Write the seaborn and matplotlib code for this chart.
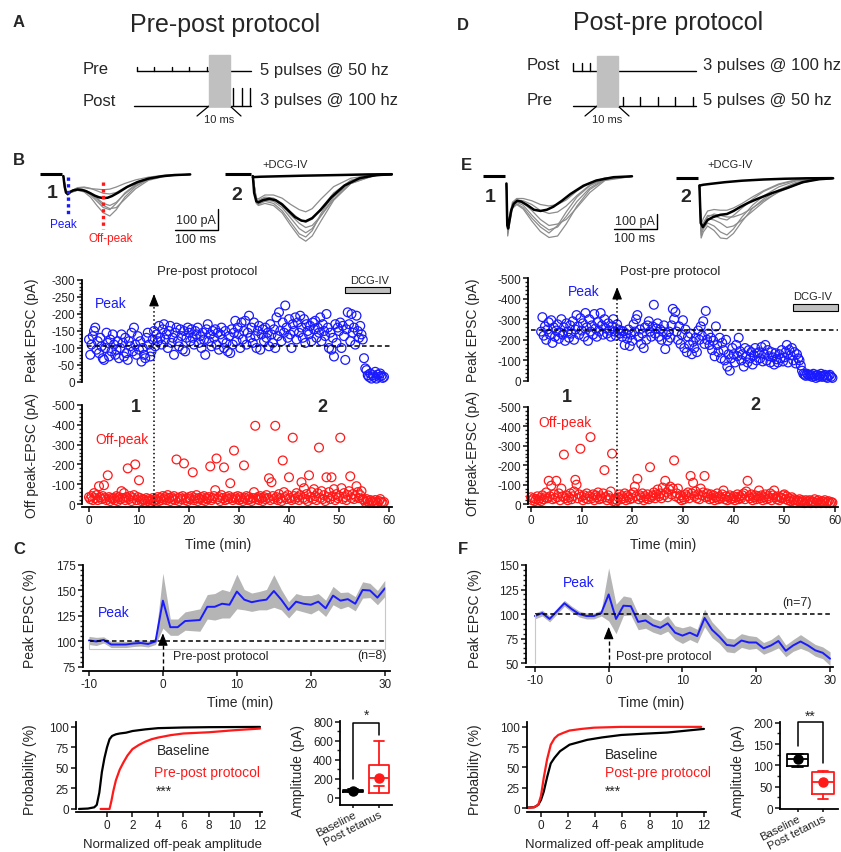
import numpy as np
import matplotlib
matplotlib.use("Agg")
import matplotlib.pyplot as plt
import seaborn as sns
from matplotlib.patches import Rectangle
from matplotlib.ticker import MultipleLocator

W, H = 841, 853
BLUE = "#1a1aff"
RED = "#ff1a1a"
GREY = "#8c8c8c"
BAND = "#b5b5b5"

# ========================= Protocol pulses (ms) =========================
PRE_PULSES_MS = [0, 20, 40, 60, 80]      # 5 pulses @ 50 Hz
POST_PULSES_MS = [0, 10, 20]             # 3 pulses @ 100 Hz

# ========================= Example traces (ms, pA) =========================
# Pre-post, before (1)
B1_MEAN_T = [2, 5, 8, 12, 18, 25, 35, 45, 55, 65, 75, 85, 95, 105, 115, 130, 150, 175, 200, 230, 260, 297]
B1_MEAN_I = [-10, -60, -88, -95, -85, -78, -74, -76, -82, -92, -103, -111, -115, -113, -105, -88, -62, -38, -22, -11, -5, -2]
B1_GREY_T = [2, 8, 12, 20, 35, 50, 65, 80, 95, 110, 125, 145, 170, 200, 240, 297]
B1_GREY = [
    [-10, -85, -98, -85, -72, -75, -90, -115, -140, -150, -135, -95, -55, -25, -8, -2],
    [-10, -90, -100, -88, -78, -85, -110, -150, -185, -200, -170, -110, -60, -25, -8, -2],
    [-10, -80, -92, -80, -65, -62, -68, -80, -92, -95, -88, -65, -40, -20, -6, -2],
    [-10, -88, -96, -83, -75, -80, -100, -130, -160, -170, -140, -90, -50, -22, -7, -2],
    [-10, -82, -95, -80, -68, -65, -70, -72, -75, -72, -62, -45, -28, -15, -5, -2],
    [-10, -86, -100, -86, -76, -82, -95, -120, -150, -165, -160, -120, -70, -30, -10, -3],
]
# Pre-post, after (2)
B2_MEAN_T = [2, 5, 10, 15, 25, 40, 55, 70, 85, 100, 115, 125, 140, 160, 185, 215, 250, 290, 325]
B2_MEAN_I = [-10, -90, -130, -135, -125, -118, -125, -145, -175, -205, -222, -225, -210, -170, -110, -55, -20, -5, -2]
B2_GREY_T = [2, 10, 15, 30, 50, 70, 90, 110, 125, 140, 160, 190, 230, 280, 325]
B2_GREY = [
    [-10, -130, -140, -125, -130, -160, -210, -260, -280, -260, -200, -110, -40, -8, -2],
    [-10, -120, -125, -110, -115, -140, -180, -215, -230, -215, -165, -90, -30, -6, -2],
    [-10, -140, -150, -140, -150, -185, -245, -300, -320, -295, -225, -125, -45, -10, -2],
    [-10, -115, -118, -100, -100, -115, -145, -170, -180, -165, -120, -60, -20, -5, -2],
    [-10, -135, -145, -130, -140, -175, -230, -285, -300, -270, -190, -95, -30, -6, -2],
    [-10, -125, -130, -115, -120, -150, -195, -235, -255, -245, -200, -120, -45, -10, -2],
]
B2_DCG_T = [2, 20, 60, 120, 200, 270, 325]
B2_DCG_I = [-15, -13, -11, -8, -5, -2, -1]

# Post-pre, before (1)
E1_MEAN_T = [1, 3, 5, 8, 12, 18, 26, 35, 50, 65, 80, 95, 110, 130, 150, 180, 210, 250, 293]
E1_MEAN_I = [-50, -330, -350, -300, -230, -185, -165, -170, -195, -225, -233, -225, -205, -165, -120, -65, -30, -8, -2]
E1_GREY_T = [1, 4, 8, 15, 25, 40, 60, 80, 100, 120, 140, 165, 195, 230, 293]
E1_GREY = [
    [-50, -380, -300, -200, -175, -195, -260, -320, -360, -340, -270, -170, -80, -20, -2],
    [-50, -340, -280, -190, -160, -165, -190, -230, -250, -240, -200, -130, -60, -15, -2],
    [-50, -400, -320, -215, -190, -220, -300, -370, -410, -400, -320, -200, -90, -25, -2],
    [-50, -330, -270, -175, -150, -150, -165, -190, -200, -190, -160, -100, -45, -12, -2],
    [-50, -360, -300, -210, -185, -210, -280, -340, -380, -330, -240, -140, -65, -18, -2],
    [-50, -350, -290, -200, -170, -180, -230, -290, -330, -320, -290, -210, -110, -30, -3],
]
# Post-pre, after (2)
E2_MEAN_T = [1, 4, 9, 20, 33, 50, 65, 80, 96, 115, 135, 170, 205, 242, 280, 312]
E2_MEAN_I = [-50, -300, -327, -280, -260, -245, -240, -220, -193, -165, -140, -100, -67, -27, -8, -2]
E2_GREY_T = [1, 5, 10, 20, 35, 50, 65, 80, 100, 125, 150, 185, 225, 270, 312]
E2_GREY = [
    [-50, -380, -340, -300, -320, -360, -380, -340, -260, -180, -120, -60, -20, -5, -2],
    [-50, -330, -300, -250, -250, -270, -280, -250, -200, -140, -90, -45, -15, -4, -2],
    [-50, -400, -360, -320, -350, -400, -405, -370, -290, -200, -140, -80, -30, -8, -2],
    [-50, -310, -270, -220, -210, -215, -215, -200, -170, -125, -85, -40, -12, -3, -1],
    [-50, -360, -320, -270, -280, -300, -330, -320, -280, -220, -160, -90, -35, -10, -2],
    [-50, -350, -310, -260, -240, -250, -260, -260, -240, -200, -150, -95, -45, -12, -2],
]
E2_DCG_T = [2, 10, 30, 60, 100, 150, 200, 250, 310]
E2_DCG_I = [-50, -45, -38, -28, -18, -10, -5, -2, -1]

# ========================= Time course, one sweep every 15 s =========================
SWEEP_MIN = 0.25
B_PEAK = [
    -125, -80, -110, -135, -150, -160, -95, -120, -85, -130, -105, -70, -65, -100, -145, -115, -75, -125, -90, -140,
    -110, -80, -95, -120, -70, -100, -140, -115, -75, -130, -85, -65, -120, -105, -145, -90, -160, -110, -80, -135,
    -95, -120, -60, -100, -80, -70, -130, -145, -110, -75, -90, -125, -150, -105, -140, -120, -165, -130, -110, -155,
    -170, -125, -140, -100, -150, -165, -115, -130, -80, -145, -160, -120, -105, -155, -135, -95, -150, -90, -130, -160,
    -145, -120, -155, -130, -110, -150, -140, -160, -115, -135, -100, -145, -125, -80, -155, -170, -120, -140, -105, -150,
    -130, -155, -110, -145, -95, -140, -160, -125, -100, -150, -115, -90, -135, -85, -155, -110, -145, -180, -120, -160,
    -140, -100, -175, -125, -150, -180, -110, -145, -195, -130, -160, -115, -175, -135, -100, -150, -165, -95, -140, -155,
    -120, -160, -130, -145, -105, -170, -140, -115, -155, -100, -190, -135, -205, -150, -120, -175, -145, -225, -160, -130,
    -185, -140, -100, -170, -150, -190, -125, -175, -145, -195, -160, -130, -185, -115, -170, -150, -140, -165, -120, -175,
    -155, -180, -130, -160, -145, -190, -120, -170, -150, -135, -200, -160, -100, -145, -95, -130, -75, -170, -115, -160,
    -150, -175, -100, -165, -135, -65, -155, -205, -170, -120, -200, -145, -160, -110, -195, -150, -130, -165, -140, -125,
    -70, -40, -35, -20, -15, -25, -10, -20, -15, -30, -10, -22, -15, -25, -18, -12, -15,
]
B_OFF = [
    -35, -25, -40, -20, -55, -30, -45, -20, -90, -35, -25, -40, -95, -30, -20, -145, -35, -15, -30, -25,
    -30, -20, -40, -15, -35, -25, -65, -30, -55, -20, -35, -180, -25, -40, -15, -30, -45, -200, -20, -35,
    -120, -30, -15, -25, -20, -10, -30, -15, -25, -10, -20, -30, -15, -25, -20, -35, -15, -30, -20, -40,
    -25, -35, -20, -45, -30, -15, -35, -25, -40, -20, -225, -30, -15, -35, -25, -40, -205, -20, -30, -15,
    -35, -25, -40, -160, -20, -30, -45, -15, -30, -25, -35, -20, -40, -15, -30, -25, -35, -190, -20, -30,
    -40, -70, -230, -25, -35, -15, -45, -30, -185, -20, -35, -25, -40, -105, -30, -20, -270, -35, -25, -40,
    -20, -35, -25, -15, -195, -30, -40, -20, -35, -25, -15, -30, -60, -395, -25, -35, -20, -40, -30, -15,
    -35, -25, -45, -30, -130, -20, -110, -40, -25, -395, -35, -20, -50, -30, -15, -220, -60, -35, -25, -45,
    -135, -30, -20, -335, -40, -25, -55, -35, -20, -45, -110, -30, -80, -25, -50, -15, -145, -35, -60, -25,
    -75, -40, -20, -55, -285, -30, -65, -25, -45, -15, -135, -35, -60, -25, -135, -40, -75, -20, -50, -30,
    -40, -335, -80, -25, -55, -35, -20, -45, -65, -140, -30, -50, -25, -40, -90, -60, -30, -45, -65, -25,
    -20, -10, -25, -15, -5, -20, -10, -15, -5, -20, -10, -5, -15, -25, -10, -5, -10,
]
B_BASELINE = -106
B_PROTOCOL_MIN = 13

E_PEAK_START = 2.0
E_PEAK = [
    -240, -310, -220, -265, -200, -250, -285, -225, -295, -185, -260, -215,
    -245, -275, -205, -235, -300, -225, -260, -195, -280, -240, -210, -270, -230, -290, -200, -250, -320, -265, -225, -305,
    -245, -280, -215, -330, -260, -195, -300, -240, -270, -225, -325, -255, -215, -285, -240, -330, -270, -225, -300, -255,
    -230, -280, -245, -215, -265, -300, -240, -220, -275, -250, -230, -245, -215, -240, -175, -230, -205, -250, -170, -225,
    -195, -275, -240, -300, -320, -215, -250, -180, -230, -160, -260, -200, -270, -290, -240, -215, -265, -370, -230, -255,
    -280, -215, -250, -200, -240, -270, -155, -225, -195, -240, -210, -270, -350, -300, -335, -240, -200, -265, -180, -225,
    -295, -160, -250, -140, -215, -175, -230, -130, -190, -160, -210, -140, -245, -200, -265, -220, -290, -180, -340, -200,
    -230, -175, -210, -150, -195, -120, -265, -175, -140, -210, -110, -185, -150, -100, -200, -70, -130, -50, -110, -160,
    -130, -90, -175, -120, -210, -145, -100, -130, -70, -160, -120, -90, -150, -110, -140, -80, -125, -160, -100, -135,
    -140, -110, -165, -95, -130, -175, -100, -150, -120, -90, -140, -115, -80, -135, -105, -90, -130, -110, -150, -95,
    -115, -140, -175, -90, -150, -125, -160, -100, -140, -85, -130, -110, -100, -75, -50, -35, -30, -25, -35, -30,
    -25, -30, -20, -35, -25, -15, -30, -20, -25, -35, -20, -25, -30, -20, -15, -25, -30, -20, -15,
]
E_OFF = [
    -35, -20, -30, -15, -25, -40, -20, -30, -15, -45, -25, -35, -60, -30, -120, -40, -95, -25, -50, -30,
    -120, -35, -55, -20, -80, -40, -255, -30, -45, -20, -35, -55, -25, -40, -65, -125, -100, -30, -50, -285,
    -40, -20, -45, -30, -55, -25, -40, -345, -30, -50, -20, -45, -35, -60, -25, -40, -30, -55, -175, -35,
    -20, -45, -30, -65, -260, -15, -25, -10, -20, -35, -50, -25, -40, -30, -55, -20, -45, -35, -25, -50,
    -30, -60, -90, -40, -130, -25, -45, -35, -55, -20, -40, -30, -50, -25, -190, -35, -45, -60, -30, -50,
    -75, -40, -55, -30, -85, -45, -120, -60, -35, -75, -90, -50, -80, -225, -40, -55, -80, -30, -45, -20,
    -35, -25, -50, -40, -60, -30, -145, -55, -110, -40, -65, -30, -50, -25, -80, -45, -60, -145, -35, -55,
    -40, -25, -50, -30, -45, -20, -35, -55, -25, -40, -30, -50, -70, -25, -40, -20, -35, -45, -25, -30,
    -40, -20, -35, -50, -25, -40, -30, -45, -55, -25, -65, -120, -40, -30, -50, -20, -35, -45, -25, -40,
    -70, -30, -45, -20, -35, -50, -25, -40, -30, -55, -20, -45, -70, -35, -25, -40, -20, -35, -30, -45,
    -50, -25, -40, -20, -30, -15, -35, -20, -25, -10, -20, -15, -25, -10, -20, -15, -5, -20, -10, -15,
    -20, -5, -15, -10, -25, -5, -15, -20, -10, -5, -15, -10, -20, -5, -10, -15, -5, -10, -8,
]
E_BASELINE = -250
E_PROTOCOL_MIN = 17

# ========================= Normalized peak, mean +/- SEM =========================
NORM_TIME = list(range(-10, 31))
C_MEAN = [101, 100, 101.5, 97, 97, 97, 98, 98.5, 97.5, 100, 140, 114, 114, 120, 120.5, 121, 134, 134, 137, 136,
          149, 141, 138.5, 140, 141, 149.5, 141, 131, 139, 137, 136, 139, 132.5, 145, 140, 141.5, 137, 150.5, 150, 143, 152]
C_SEM = [4, 4, 3, 3, 3, 3, 3, 3, 3, 3, 27, 8, 8, 9, 10, 11, 12, 13, 14, 13,
         17, 10, 9, 9, 10, 16, 10, 8, 8, 8, 9, 8, 8, 9, 8, 7, 7, 8, 7, 7, 8]
F_MEAN = [98, 101, 95, 103, 111, 105, 100, 98, 98, 101, 120, 95, 108.5, 108, 92, 93.5, 88.5, 86, 90.5, 81,
          78, 81, 77.5, 96, 84, 77, 68.5, 67.5, 73, 71, 71, 65, 68, 72.5, 62.5, 68, 72, 68, 63, 60.5, 54.5]
F_SEM = [3, 3, 3, 3, 3, 3, 3, 3, 3, 3, 27, 15, 10, 9, 8, 8, 7, 7, 8, 7,
         8, 7, 7, 9, 8, 7, 7, 7, 7, 7, 6, 6, 6, 7, 6, 6, 7, 6, 6, 6, 7]

# ========================= Cumulative distributions =========================
C_CDF_BASE_X = [-2.2, -1.5, -1.0, -0.8, -0.6, -0.4, -0.2, 0.0, 0.2, 0.4, 0.7, 1.0, 1.5, 2.0, 3.0, 4.0, 6.0, 8.0, 12.0]
C_CDF_BASE_Y = [0, 0.5, 2, 5, 20, 45, 62, 75, 85, 89, 91, 92, 93, 95, 97, 98.5, 99.3, 99.7, 100]
C_CDF_POST_X = [-0.5, 0.2, 0.35, 0.5, 0.7, 1.0, 1.3, 1.6, 2.0, 2.5, 3.0, 3.5, 4.0, 5.0, 6.0, 8.0, 10.0, 12.0]
C_CDF_POST_Y = [0, 0, 10, 22, 35, 48, 57, 65, 73, 78, 82, 85, 87, 90, 92, 93.5, 96, 98]
F_CDF_BASE_X = [-1.0, -0.5, -0.2, 0.0, 0.2, 0.45, 0.72, 1.0, 1.4, 2.1, 3.4, 4.5, 5.9, 7.5, 9.3, 10.5, 12.0]
F_CDF_BASE_Y = [0.5, 1, 4, 10, 20, 38, 55, 62, 70, 78, 84, 87, 90, 91.5, 93, 95, 97.5]
F_CDF_POST_X = [-1.0, -0.5, -0.2, 0.0, 0.2, 0.45, 0.72, 1.0, 1.27, 1.7, 2.1, 3.0, 3.9, 5.9, 8.0, 11.8]
F_CDF_POST_Y = [0, 1, 4, 15, 37, 60, 78, 86, 90, 93, 95.5, 97.5, 99, 100, 100, 100]

# ========================= Off-peak amplitude summaries (pA) =========================
BOX_LABELS = ["Baseline", "Post tetanus"]
C_BOX = [dict(med=72, q1=62, q3=82, whislo=58, whishi=90, mean=72),
         dict(med=205, q1=55, q3=350, whislo=120, whishi=595, mean=208)]
F_BOX = [dict(med=115, q1=99, q3=127, whislo=97, whishi=128, mean=114),
         dict(med=60, q1=34, q3=85, whislo=21, whishi=88, mean=61)]


# ========================= Figure =========================
sns.set_theme(style="ticks")
plt.rcParams["font.family"] = ["Liberation Sans", "DejaVu Sans"]
plt.rcParams["axes.unicode_minus"] = False
plt.rcParams["axes.linewidth"] = 1.3
plt.rcParams["xtick.color"] = "#222222"
plt.rcParams["ytick.color"] = "#222222"

fig = plt.figure(figsize=(W / 100, H / 100), dpi=100)


def px_axes(x0, y0, x1, y1):
    return fig.add_axes([x0 / W, 1 - y1 / H, (x1 - x0) / W, (y1 - y0) / H])


def style(ax, labelsize=8.5):
    sns.despine(ax=ax)
    ax.patch.set_alpha(0)
    for s in ["left", "bottom"]:
        ax.spines[s].set_linewidth(1.3)
        ax.spines[s].set_color("black")
    ax.tick_params(which="major", direction="out", length=3.5, width=1.2, labelsize=labelsize, pad=1.5)
    ax.tick_params(which="minor", direction="out", length=2, width=1)


def trace_axes(x0, x1, y0, y1, stim_px, base_px, ms_per_px, pa_per_px):
    ax = px_axes(x0, y0, x1, y1)
    ax.set_xlim((x0 - stim_px) * ms_per_px, (x1 - stim_px) * ms_per_px)
    ax.set_ylim((base_px - y1) * pa_per_px, (base_px - y0) * pa_per_px)
    ax.axis("off")
    return ax


def draw_traces(ax, grey_t, grey, mean_t, mean_i, base_ms, dcg=None):
    for g in grey:
        sns.lineplot(x=grey_t, y=g, ax=ax, color=GREY, lw=0.9, estimator=None, sort=False)
    if dcg is not None:
        sns.lineplot(x=dcg[0], y=dcg[1], ax=ax, color="black", lw=1.8, estimator=None, sort=False)
    sns.lineplot(x=mean_t, y=mean_i, ax=ax, color="black", lw=1.8, estimator=None, sort=False)
    ax.plot(base_ms, [0, 0], color="black", lw=2.2, solid_capstyle="butt")


# overlay in pixel coordinates for texts and schematic
ov = fig.add_axes([0, 0, 1, 1], zorder=10)
ov.set_xlim(0, W)
ov.set_ylim(H, 0)
ov.axis("off")


def txt(x, y, s, size=10, ha="left", va="center", **kw):
    ov.text(x, y, s, fontsize=size, ha=ha, va=va, **kw)


def to_px(ax, x, y):
    d = ax.transData.transform((x, y))
    return d[0], H - d[1]


# ---------- A / D protocol schematics ----------
MS_PX = 0.87


def pulses(x_start, times, y, height):
    for t in times:
        x = x_start + MS_PX * t
        ov.plot([x, x], [y - height, y], color="black", lw=1.0)


def slashes(x_left, x_right, y):
    ov.plot([x_left - 12, x_left], [y + 10, y], color="black", lw=0.9)
    ov.plot([x_right, x_right + 11], [y, y + 10], color="black", lw=0.9)
    txt((x_left + x_right) / 2, y + 13, "10 ms", size=8, ha="center")


# A
ov.plot([137, 251], [72, 72], color="black", lw=1.0)
pulses(137, PRE_PULSES_MS, 72, 4)
ov.plot([134, 251], [107, 107], color="black", lw=1.0)
pulses(233, POST_PULSES_MS, 107, 18)
ov.add_patch(Rectangle((209, 56), 21, 51, color="#c0c0c0", zorder=3))
slashes(209, 230, 107)
txt(225, 25, "Pre-post protocol", size=18, ha="center")
txt(83, 69, "Pre", size=12)
txt(83, 101, "Post", size=12)
txt(260, 70, "5 pulses @ 50 hz", size=12)
txt(260, 100, "3 pulses @ 100 hz", size=12)

# D
ov.plot([573, 696], [72, 72], color="black", lw=1.0)
pulses(573, POST_PULSES_MS, 72, 8)
ov.plot([573, 696], [107, 107], color="black", lw=1.0)
pulses(623, PRE_PULSES_MS, 107, 9)
ov.add_patch(Rectangle((597, 57), 21, 50, color="#c0c0c0", zorder=3))
slashes(597, 618, 107)
txt(668, 23, "Post-pre protocol", size=18, ha="center")
txt(527, 65, "Post", size=12)
txt(527, 100, "Pre", size=12)
txt(703, 65, "3 pulses @ 100 hz", size=12)
txt(703, 100, "5 pulses @ 50 hz", size=12)

# ---------- B / E traces ----------
tB1 = trace_axes(30, 225, 150, 250, 62.5, 175, 1 / 0.43, 1 / 0.21)
draw_traces(tB1, B1_GREY_T, B1_GREY, B1_MEAN_T, B1_MEAN_I, [-52, -1])
tB1.plot([12.8, 12.8], [-14, -190], color=BLUE, lw=2.4, ls=(0, (1, 1)))
tB1.plot([94, 94], [-38, -262], color=RED, lw=2.4, ls=(0, (1, 1)), clip_on=False)
tB1.plot([261.6, 361.6, 361.6], [-266.7, -266.7, -166.7], color="black", lw=1.0, clip_on=False)

tB2 = trace_axes(215, 400, 150, 250, 252, 175, 1 / 0.43, 1 / 0.21)
draw_traces(tB2, B2_GREY_T, B2_GREY, B2_MEAN_T, B2_MEAN_I, [-63, -2], dcg=(B2_DCG_T, B2_DCG_I))

tE1 = trace_axes(470, 665, 150, 255, 506, 177, 1 / 0.43, 1 / 0.15)
draw_traces(tE1, E1_GREY_T, E1_GREY, E1_MEAN_T, E1_MEAN_I, [-53, -2])
tE1.plot([251.2, 351.2, 351.2], [-353.3, -353.3, -253.3], color="black", lw=1.0, clip_on=False)

tE2 = trace_axes(665, 841, 150, 255, 699, 179, 1 / 0.43, 1 / 0.15)
draw_traces(tE2, E2_GREY_T, E2_GREY, E2_MEAN_T, E2_MEAN_I, [-53, -2], dcg=(E2_DCG_T, E2_DCG_I))

txt(52, 193, "1", size=14, ha="center", weight="bold")
txt(237, 195, "2", size=14, ha="center", weight="bold")
txt(63, 225, "Peak", size=8.5, ha="center", color=BLUE)
txt(111, 239, "Off-peak", size=8.5, ha="center", color=RED)
txt(196, 221, "100 pA", size=9, ha="center")
txt(196, 240, "100 ms", size=9, ha="center")
txt(262, 165, "+DCG-IV", size=8)
txt(490, 197, "1", size=14, ha="center", weight="bold")
txt(686, 197, "2", size=14, ha="center", weight="bold")
txt(635, 222, "100 pA", size=9, ha="center")
txt(635, 239, "100 ms", size=9, ha="center")
txt(707, 165, "+DCG-IV", size=8)


# ---------- B / E time courses ----------
def scatter_pair(x0, x1, top_y, bot_y, xlim, top_lim, top_step, top_minor, peak_t, peak, off_t, off):
    at = px_axes(x0, top_y[0], x1, top_y[1])
    ab = px_axes(x0, bot_y[0], x1, bot_y[1])
    for ax in (at, ab):
        ax.set_xlim(*xlim)
        style(ax)
    at.set_ylim(0, top_lim)
    ab.set_ylim(15, -500)
    sns.scatterplot(x=peak_t, y=peak, ax=at, s=40, marker="o", facecolors="none",
                    edgecolor=BLUE, linewidth=0.9, clip_on=False, legend=False)
    sns.scatterplot(x=off_t, y=off, ax=ab, s=40, marker="o", facecolors="none",
                    edgecolor=RED, linewidth=0.9, clip_on=False, legend=False)
    at.spines["bottom"].set_visible(False)
    at.set_xticks([])
    at.set_yticks(np.arange(0, top_lim - 1, -top_step))
    at.yaxis.set_minor_locator(MultipleLocator(top_minor))
    ab.spines["left"].set_bounds(-500, 0)
    ab.set_yticks(np.arange(0, -501, -100))
    ab.yaxis.set_minor_locator(MultipleLocator(20))
    ab.set_xticks(range(0, 61, 10))
    for ax in (at, ab):
        ax.set_xlabel("")
        ax.set_ylabel("")
    return at, ab


def protocol_arrow(ax_top, ax_bot, t, tip_val, ls):
    xb, yb = to_px(ax_bot, t, ax_bot.get_ylim()[0])
    xt, yt = to_px(ax_top, t, tip_val)
    ov.plot([xb, xb], [yb, yt + 6], color="black", lw=1.1, ls=ls)
    ov.annotate("", xy=(xt, yt), xytext=(xt, yt + 9),
                arrowprops=dict(arrowstyle="-|>,head_length=0.75,head_width=0.3", color="black",
                                lw=0.8, shrinkA=0, shrinkB=0, mutation_scale=10))


B_T = SWEEP_MIN * np.arange(len(B_PEAK))
B_OFF_T = SWEEP_MIN * np.arange(len(B_OFF))
axB1, axB2 = scatter_pair(82, 392, (281, 383), (406, 508), (-1.4, 60.6), -300, 50, 10,
                          B_T, B_PEAK, B_OFF_T, B_OFF)
axB1.plot([-0.5, 60.5], [B_BASELINE, B_BASELINE], color="black", lw=1.1, ls=(0, (3, 2)), clip_on=False)
protocol_arrow(axB1, axB2, B_PROTOCOL_MIN, -259, ":")

E_T = E_PEAK_START + SWEEP_MIN * np.arange(len(E_PEAK))
E_OFF_T = SWEEP_MIN * np.arange(len(E_OFF))
axE1, axE2 = scatter_pair(528, 838, (279, 382), (408, 508), (-0.59, 60.6), -500, 100, 20,
                          E_T, E_PEAK, E_OFF_T, E_OFF)
axE1.plot([0, 60.6], [E_BASELINE, E_BASELINE], color="black", lw=1.1, ls=(0, (3, 2)), clip_on=False)
protocol_arrow(axE1, axE2, E_PROTOCOL_MIN, -456, ":")

txt(207, 272, "Pre-post protocol", size=9.5, ha="center")
txt(95, 304, "Peak", size=10, color=BLUE)
txt(370, 281, "DCG-IV", size=8, ha="center")
ov.add_patch(Rectangle((345, 288), 45, 6, fc="#c0c0c0", ec="black", lw=0.8))
txt(136, 407, "1", size=13, ha="center", weight="bold")
txt(322, 407, "2", size=13, ha="center", weight="bold")
txt(95, 440, "Off-peak", size=10, color=RED)
txt(32, 330, "Peak EPSC (pA)", size=10, ha="center", rotation=90)
txt(32, 455, "Off peak-EPSC (pA)", size=10, ha="center", rotation=90)
txt(218, 545, "Time (min)", size=10, ha="center")

txt(670, 272, "Post-pre protocol", size=9.5, ha="center")
txt(568, 292, "Peak", size=10, color=BLUE)
txt(813, 297, "DCG-IV", size=8, ha="center")
ov.add_patch(Rectangle((793, 305), 45, 7, fc="#c0c0c0", ec="black", lw=0.8))
txt(567, 397, "1", size=13, ha="center", weight="bold")
txt(755, 405, "2", size=13, ha="center", weight="bold")
txt(538, 423, "Off-peak", size=10, color=RED)
txt(473, 330, "Peak EPSC (pA)", size=10, ha="center", rotation=90)
txt(473, 454, "Off peak-EPSC (pA)", size=10, ha="center", rotation=90)
txt(663, 545, "Time (min)", size=10, ha="center")


# ---------- C / F normalized time course ----------
def norm_panel(rect, xlim, ylim, ybounds, mean, sem):
    ax = px_axes(*rect)
    style(ax)
    ax.set_xlim(*xlim)
    ax.set_ylim(*ylim)
    m = np.array(mean)
    e = np.array(sem)
    ax.fill_between(NORM_TIME, m - e, m + e, color=BAND, lw=0)
    sns.lineplot(x=NORM_TIME, y=mean, ax=ax, color=BLUE, lw=1.4, estimator=None)
    ax.plot([-10, 30], [100, 100], color="black", lw=1.1, ls=(0, (3, 2)))
    ax.spines["left"].set_bounds(*ybounds)
    ax.set_yticks(np.arange(ybounds[0], ybounds[1] + 1, 25))
    ax.yaxis.set_minor_locator(MultipleLocator(5))
    ax.set_xticks(range(-10, 31, 10))
    ax.set_xlabel("")
    ax.set_ylabel("")
    return ax


axC = norm_panel((83, 566, 390, 672), (-10.8, 30.7), (71, 175), (75, 175), C_MEAN, C_SEM)
axC.plot([-10, -10, 30, 30], [100, 93, 93, C_MEAN[-1]], color="#c8c8c8", lw=0.8)
axC.plot([0, 0], [72, 101], color="black", lw=1.0, ls=(0, (3, 2)), clip_on=False)
axC.annotate("", xy=(0, 108), xytext=(0, 99),
             arrowprops=dict(arrowstyle="-|>,head_length=0.75,head_width=0.3", color="black",
                             lw=0.8, shrinkA=0, shrinkB=0, mutation_scale=10))

axF = norm_panel((526, 566, 833, 668), (-11.2, 30.4), (46, 150), (50, 150), F_MEAN, F_SEM)
axF.plot([-10, -10], [100, 50], color="#c8c8c8", lw=0.8)
axF.plot([0, 0], [47, 80], color="black", lw=1.0, ls=(0, (3, 2)), clip_on=False)
axF.annotate("", xy=(0, 87), xytext=(0, 78),
             arrowprops=dict(arrowstyle="-|>,head_length=0.75,head_width=0.3", color="black",
                             lw=0.8, shrinkA=0, shrinkB=0, mutation_scale=10))

txt(98, 613, "Peak", size=10, color=BLUE)
txt(173, 657, "Pre-post protocol", size=9)
txt(387, 656, "(n=8)", size=9, ha="right")
txt(30, 619, "Peak EPSC (%)", size=10, ha="center", rotation=90)
txt(240, 703, "Time (min)", size=10, ha="center")

txt(563, 583, "Peak", size=10, color=BLUE)
txt(782, 603, "(n=7)", size=9)
txt(616, 657, "Post-pre protocol", size=9)
txt(475, 618, "Peak EPSC (%)", size=10, ha="center", rotation=90)
txt(651, 703, "Time (min)", size=10, ha="center")


# ---------- cumulative plots ----------
def cdf_panel(rect, xlim, ylim, base, post):
    ax = px_axes(*rect)
    style(ax)
    ax.set_xlim(*xlim)
    ax.set_ylim(*ylim)
    sns.lineplot(x=base[0], y=base[1], ax=ax, color="black", lw=1.6, estimator=None, sort=False)
    sns.lineplot(x=post[0], y=post[1], ax=ax, color=RED, lw=1.6, estimator=None, sort=False)
    ax.set_xticks(range(0, 13, 2))
    ax.set_yticks(range(0, 101, 25))
    ax.spines["left"].set_bounds(0, ylim[1])
    ax.set_xlabel("")
    ax.set_ylabel("")
    return ax


cdf_panel((76, 723, 262, 813), (-2.43, 12.16), (-3.7, 106), (C_CDF_BASE_X, C_CDF_BASE_Y), (C_CDF_POST_X, C_CDF_POST_Y))
cdf_panel((527, 723, 706, 813), (-1.03, 12.15), (-4.9, 106), (F_CDF_BASE_X, F_CDF_BASE_Y), (F_CDF_POST_X, F_CDF_POST_Y))

txt(157, 751, "Baseline", size=10)
txt(154, 773, "Pre-post protocol", size=10, color=RED)
txt(156, 792, "***", size=10)
txt(30, 770, "Probability (%)", size=10, ha="center", rotation=90)
txt(173, 845, "Normalized off-peak amplitude", size=9.5, ha="center")

txt(605, 755, "Baseline", size=10)
txt(605, 773, "Post-pre protocol", size=10, color=RED)
txt(605, 792, "***", size=10)
txt(475, 770, "Probability (%)", size=10, ha="center", rotation=90)
txt(615, 845, "Normalized off-peak amplitude", size=9.5, ha="center")


# ---------- box plots ----------
def box_panel(rect, xlim, ylim, stats, width, step, minor, bracket):
    ax = px_axes(*rect)
    style(ax, labelsize=8.5)
    ax.set_xlim(*xlim)
    ax.set_ylim(*ylim)
    for pos, (st, col) in enumerate(zip(stats, ["black", RED])):
        ax.bxp([dict(st, fliers=[])], positions=[pos], widths=width, showmeans=True,
               boxprops=dict(color=col, lw=1.3), medianprops=dict(color=col, lw=1.3),
               whiskerprops=dict(color=col, lw=1.3), capprops=dict(color=col, lw=1.3),
               meanprops=dict(marker="o", markerfacecolor=col, markeredgecolor=col, markersize=6.5),
               manage_ticks=False)
    ax.plot([0, 0, 1, 1], bracket, color="black", lw=1.1, clip_on=False)
    ax.set_xticks([0, 1])
    ax.set_xticklabels(BOX_LABELS, rotation=27, ha="right", rotation_mode="anchor", fontsize=8.2)
    ax.tick_params(axis="x", pad=0.5, length=2.5)
    ax.set_yticks(np.arange(0, ylim[1], step))
    ax.yaxis.set_minor_locator(MultipleLocator(minor))
    return ax


box_panel((340, 722, 392, 806), (-0.5, 1.5), (-75, 810), C_BOX, 0.8, 200, 100, [200, 790, 790, 660])
box_panel((780, 723, 838, 810), (-0.69, 1.59), (-2.3, 202), F_BOX, 0.83, 50, 25, [145, 202, 202, 105])
txt(367, 716, "*", size=10, ha="center")
txt(810, 717, "**", size=10, ha="center")
txt(298, 771, "Amplitude (pA)", size=10, ha="center", rotation=90)
txt(738, 771, "Amplitude (pA)", size=10, ha="center", rotation=90)

# ---------- panel letters ----------
for letter, (x, y) in {"A": (19, 22), "D": (463, 25), "B": (19, 160), "E": (466, 165),
                       "C": (19, 549), "F": (463, 549)}.items():
    txt(x, y, letter, size=12, ha="center", weight="bold")

fig.savefig("out.png", dpi=100)
